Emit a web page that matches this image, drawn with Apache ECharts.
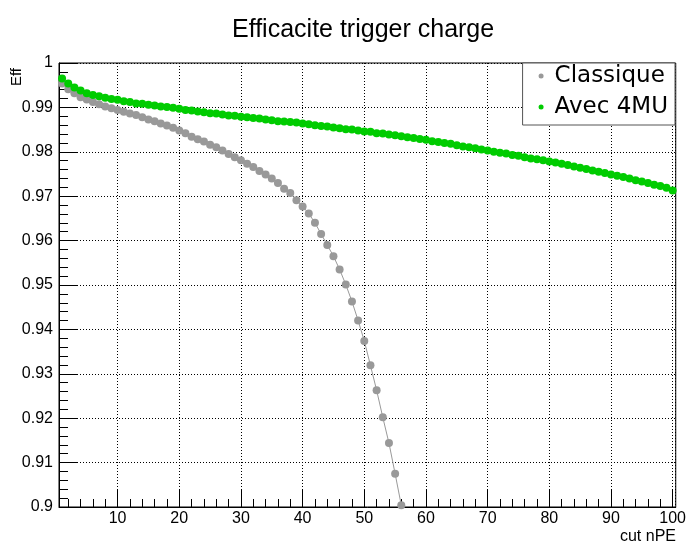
<!DOCTYPE html>
<html>
<head>
<meta charset="utf-8">
<script src="https://cdn.jsdelivr.net/npm/echarts@6/dist/echarts.min.js"></script>
<style>
html,body{margin:0;padding:0;background:#fff;}
#chart{width:689px;height:544px;}
</style>
</head>
<body>
<div id="chart"></div>
<script>
// cut nPE values
const cutClassique = [1,2,3,4,5,6,7,8,9,10,11,12,13,14,15,16,17,18,19,20,
  21,22,23,24,25,26,27,28,29,30,31,32,33,34,35,36,37,38,39,40,
  41,42,43,44,45,46,47,48,49,50,51,52,53,54,55,56];
const effClassique = [0.9954,0.9941,0.9932,0.9923,0.9918,0.9912,0.9907,0.9902,0.9898,0.9894,
  0.9890,0.9886,0.9883,0.9878,0.9873,0.9869,0.9864,0.9859,0.9854,0.9848,
  0.9842,0.9834,0.9828,0.9823,0.9816,0.9810,0.9803,0.9795,0.9788,0.9781,
  0.9773,0.9766,0.9757,0.9749,0.9740,0.9730,0.9717,0.9707,0.9691,0.9677,
  0.9661,0.9640,0.9615,0.9590,0.9565,0.9535,0.9501,0.9463,0.9420,0.9374,
  0.9319,0.9263,0.9202,0.9144,0.9075,0.9004];

const cutAvec = [1,2,3,4,5,6,7,8,9,10,11,12,13,14,15,16,17,18,19,20,
  21,22,23,24,25,26,27,28,29,30,31,32,33,34,35,36,37,38,39,40,
  41,42,43,44,45,46,47,48,49,50,51,52,53,54,55,56,57,58,59,60,
  61,62,63,64,65,66,67,68,69,70,71,72,73,74,75,76,77,78,79,80,
  81,82,83,84,85,86,87,88,89,90,91,92,93,94,95,96,97,98,99,100];
const effAvec = [0.9965,0.9954,0.9945,0.9938,0.9932,0.9928,0.9925,0.9922,0.9919,0.9917,
  0.9914,0.9912,0.9909,0.9908,0.9906,0.9904,0.9902,0.9901,0.9899,0.9897,
  0.9894,0.9893,0.9891,0.9889,0.9887,0.9886,0.9884,0.9882,0.9881,0.9879,
  0.9878,0.9876,0.9875,0.9873,0.9871,0.9869,0.9868,0.9867,0.9866,0.9864,
  0.9862,0.9860,0.9858,0.9857,0.9855,0.9853,0.9851,0.9850,0.9848,0.9846,
  0.9845,0.9842,0.9841,0.9839,0.9837,0.9835,0.9833,0.9831,0.9829,0.9827,
  0.9824,0.9822,0.9820,0.9818,0.9815,0.9812,0.9810,0.9808,0.9805,0.9803,
  0.9800,0.9798,0.9796,0.9793,0.9791,0.9788,0.9785,0.9783,0.9781,0.9778,
  0.9776,0.9773,0.9770,0.9767,0.9764,0.9761,0.9758,0.9755,0.9752,0.9749,
  0.9746,0.9743,0.9740,0.9736,0.9733,0.9730,0.9726,0.9723,0.9719,0.9713];

const xMinorTicks = [2,4,6,8,12,14,16,18,22,24,26,28,32,34,36,38,42,44,46,48,
  52,54,56,58,62,64,66,68,72,74,76,78,82,84,86,88,92,94,96,98];

const titleText = 'Efficacite trigger charge';
const xTitle = 'cut nPE';
const yTitle = 'Eff';
const seriesNames = ['Classique', 'Avec 4MU'];
const seriesColors = ['#999999', '#00cc00'];

const FONT = '"Liberation Sans", Arial, Helvetica, sans-serif';

const chart = echarts.init(document.getElementById('chart'), null, {renderer: 'canvas'});

const option = {
  backgroundColor: '#ffffff',
  animation: false,
  title: {
    text: titleText,
    left: 232,
    top: 18,
    padding: 0,
    textStyle: {fontFamily: FONT, fontSize: 25, fontWeight: 'normal', color: '#000'}
  },
  legend: {
    right: 14,
    top: 63,
    orient: 'vertical',
    align: 'left',
    backgroundColor: '#ffffff',
    borderColor: '#555555',
    borderWidth: 1,
    borderRadius: 0,
    padding: [0, 7, 5, 16],
    itemGap: 5,
    itemWidth: 5,
    itemHeight: 5,
    icon: 'circle',
    textStyle: {fontFamily: '"DejaVu Sans", sans-serif', fontSize: 23, color: '#000', lineHeight: 26, padding: [0, 0, 0, 6]},
    data: seriesNames
  },
  grid: {
    left: 59, right: 13, top: 63, bottom: 37,
    show: true, borderColor: '#000', borderWidth: 1, backgroundColor: 'transparent',
    containLabel: false
  },
  xAxis: [{
    type: 'value',
    min: 0.5, max: 100.5,
    splitNumber: 10,
    axisLine: {show: true, onZero: false, lineStyle: {color: '#000', width: 1}},
    axisTick: {show: true, inside: true, length: 17, lineStyle: {color: '#000'}},
    axisLabel: {show: true, showMinLabel: false, showMaxLabel: false, margin: 4,
      fontFamily: FONT, fontSize: 16, color: '#000'},
    splitLine: {show: true, lineStyle: {color: '#000', width: 1, type: [1, 2]}}
  }, {
    type: 'value',
    min: 0.5, max: 100.5,
    position: 'bottom',
    axisLine: {show: false, onZero: false},
    axisTick: {show: true, inside: true, length: 8, customValues: xMinorTicks, lineStyle: {color: '#000'}},
    axisLabel: {show: false},
    splitLine: {show: false}
  }],
  yAxis: {
    type: 'value',
    min: 0.9, max: 1, interval: 0.01,
    axisLine: {show: true, onZero: false, lineStyle: {color: '#000', width: 1}},
    axisTick: {show: true, inside: true, length: 18, lineStyle: {color: '#000'}},
    minorTick: {show: true, splitNumber: 5, length: 9, lineStyle: {color: '#000'}},
    axisLabel: {margin: 6, fontFamily: FONT, fontSize: 16, color: '#000'},
    splitLine: {show: true, lineStyle: {color: '#000', width: 1, type: [1, 2]}}
  },
  graphic: [
    {type: 'text', x: 17, y: 68, rotation: Math.PI / 2,
      style: {text: yTitle, fontFamily: FONT, fontSize: 15, fill: '#000', textAlign: 'right', textVerticalAlign: 'middle'}},
    {type: 'text', x: 676, y: 537,
      style: {text: xTitle, fontFamily: FONT, fontSize: 16, fill: '#000', textAlign: 'right', textVerticalAlign: 'middle'}}
  ],
  series: [{
    name: seriesNames[0],
    type: 'line',
    xAxisIndex: 0,
    data: cutClassique.map((c, i) => [c, effClassique[i]]),
    symbol: 'circle', symbolSize: 8,
    itemStyle: {color: seriesColors[0]},
    lineStyle: {color: seriesColors[0], width: 1},
    clip: true
  }, {
    name: seriesNames[1],
    type: 'line',
    xAxisIndex: 0,
    data: cutAvec.map((c, i) => [c, effAvec[i]]),
    symbol: 'circle', symbolSize: 8,
    itemStyle: {color: seriesColors[1]},
    lineStyle: {color: seriesColors[1], width: 1},
    clip: true
  }]
};
chart.setOption(option);
</script>
</body>
</html>
